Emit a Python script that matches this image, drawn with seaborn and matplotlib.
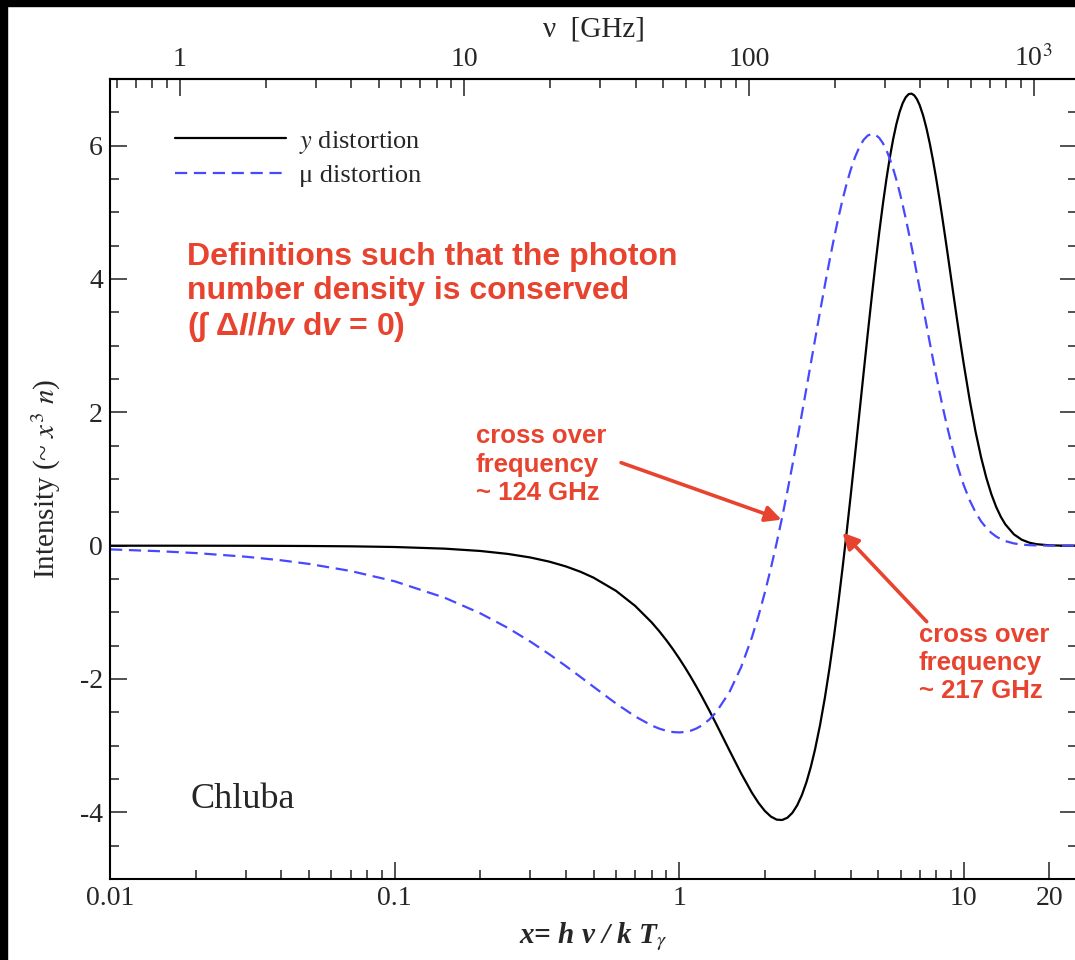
import numpy as np
import matplotlib
matplotlib.use("Agg")
import matplotlib.pyplot as plt
from matplotlib.ticker import (FixedLocator, FixedFormatter, LogLocator,
                               MultipleLocator, NullFormatter)
from matplotlib.font_manager import FontProperties
from matplotlib.patches import Rectangle
import seaborn as sns

# ---- data -------------------------------------------------------------
x_vals = [0.01, 0.015, 0.02, 0.03, 0.04, 0.05, 0.07, 0.1, 0.15, 0.2, 0.25,
          0.3, 0.35, 0.4, 0.45, 0.5, 0.6, 0.7, 0.8, 0.85, 0.9, 0.95, 1.0,
          1.05, 1.1, 1.15, 1.2, 1.275, 1.35, 1.5, 1.65, 1.8, 1.9, 2.0, 2.1,
          2.2, 2.3, 2.4, 2.5, 2.6, 2.7, 2.8, 2.9, 3.0, 3.125, 3.25, 3.375,
          3.5, 3.625, 3.75, 3.875, 4.0, 4.15, 4.3, 4.45, 4.6, 4.75, 4.9,
          5.05, 5.2, 5.35, 5.5, 5.65, 5.8, 5.95, 6.1, 6.25, 6.4, 6.55, 6.7,
          6.85, 7.0, 7.2, 7.4, 7.6, 7.8, 8.0, 8.2, 8.4, 8.6, 8.8, 9.0, 9.25,
          9.5, 9.75, 10, 10.5, 11, 11.5, 12, 12.5, 13, 13.5, 14, 15, 16, 17,
          18, 20, 22, 25]

y_distortion = [-0.0002, -0.0005, -0.0008, -0.0018, -0.0032, -0.0050,
                -0.0098, -0.0200, -0.0448, -0.0795, -0.1237, -0.1773,
                -0.2400, -0.3116, -0.3915, -0.4796, -0.6779, -0.9028,
                -1.1498, -1.2801, -1.4140, -1.5510, -1.6904, -1.8315,
                -1.9736, -2.1160, -2.2581, -2.4691, -2.6757, -3.0664,
                -3.4139, -3.7037, -3.8585, -3.9792, -4.0634, -4.1091,
                -4.1153, -4.0812, -4.0068, -3.8924, -3.7392, -3.5485,
                -3.3221, -3.0623, -2.6945, -2.2839, -1.8366, -1.3589,
                -0.8573, -0.3383, 0.1916, 0.7262, 1.3657, 1.9941, 2.6029,
                3.1846, 3.7327, 4.2421, 4.7086, 5.1293, 5.5022, 5.8258,
                6.1002, 6.3259, 6.5042, 6.6363, 6.7247, 6.7722, 6.7811,
                6.7547, 6.6961, 6.6083, 6.4516, 6.2562, 6.0294, 5.7777,
                5.5073, 5.2239, 4.9325, 4.6373, 4.3425, 4.0513, 3.6960,
                3.3546, 3.0301, 2.7247, 2.1759, 1.7119, 1.3289, 1.0193,
                0.7734, 0.5810, 0.4326, 0.3194, 0.1704, 0.0885, 0.0450,
                0.0224, 0.0053, 0.0012, 0.0001]

mu_distortion = [-0.0557, -0.0834, -0.1110, -0.1657, -0.2199, -0.2735,
                 -0.3793, -0.5340, -0.7810, -1.0143, -1.2337, -1.4390,
                 -1.6300, -1.8067, -1.9687, -2.1163, -2.3676, -2.5607,
                 -2.6966, -2.7433, -2.7762, -2.7956, -2.8015, -2.7945,
                 -2.7746, -2.7424, -2.6981, -2.6099, -2.4967, -2.2016,
                 -1.8249, -1.3799, -1.0519, -0.7036, -0.3389, 0.0382,
                 0.4238, 0.8145, 1.2067, 1.5970, 1.9826, 2.3606, 2.7284,
                 3.0837, 3.5072, 3.9047, 4.2735, 4.6113, 4.9165, 5.1884,
                 5.4259, 5.6296, 5.8294, 5.9818, 6.0887, 6.1526, 6.1761,
                 6.1624, 6.1148, 6.0366, 5.9314, 5.8022, 5.6528, 5.4861,
                 5.3051, 5.1129, 4.9118, 4.7046, 4.4933, 4.2800, 4.0664,
                 3.8540, 3.5753, 3.3039, 3.0421, 2.7916, 2.5534, 2.3286,
                 2.1174, 1.9200, 1.7367, 1.5670, 1.3735, 1.1998, 1.0446,
                 0.9068, 0.6774, 0.5008, 0.3668, 0.2663, 0.1919, 0.1373,
                 0.0975, 0.0689, 0.0338, 0.0163, 0.0077, 0.0036, 0.0008,
                 0.0002, 0.0000]

series_labels = ["$y$ distortion", "\u03bc distortion"]

x_ticks = [0.01, 0.1, 1, 10, 20]
x_tick_labels = ["0.01", "0.1", "1", "10", "20"]
nu_ticks = [1, 10, 100, 1000]
nu_tick_labels = ["1", "10", "100", "10$^3$"]
y_ticks = [-4, -2, 0, 2, 4, 6]
y_tick_labels = ["-4", "-2", "0", "2", "4", "6"]

GHZ_PER_X = 56.8              # k T_gamma / h for T_gamma = 2.725 K
crossover_mu = (2.29, 0.39)   # arrow tips, (x, intensity)
crossover_y = (3.75, 0.195)

# ---- style ------------------------------------------------------------
sns.set_style("ticks")
plt.rcParams.update({
    "font.family": ["Liberation Serif", "DejaVu Serif"],
    "mathtext.fontset": "stix",
    "mathtext.rm": "Liberation Sans:bold",
    "mathtext.it": "Liberation Sans:italic:bold",
    "mathtext.bf": "Liberation Sans:bold",
    "axes.unicode_minus": False,
    "axes.edgecolor": "black",
    "axes.linewidth": 1.5,
})

RED = "#e8432f"
BLUE = "#4848ff"
TICK_FS = 20

fig = plt.figure(figsize=(10.75, 9.6), dpi=100)
ax = fig.add_axes([110 / 1075, 81 / 960, 967 / 1075, 800 / 960])
ax.set_xscale("log")

sns.lineplot(x=x_vals, y=y_distortion, ax=ax, color="black", lw=1.6,
             sort=False, label=series_labels[0])
sns.lineplot(x=x_vals, y=mu_distortion, ax=ax, color=BLUE, lw=1.6,
             linestyle=(0, (5.5, 3.0)), sort=False, label=series_labels[1])

ax.set_xlim(0.01, 25)
ax.set_ylim(-5, 7)

# bottom axis
ax.xaxis.set_major_locator(FixedLocator(x_ticks))
ax.xaxis.set_major_formatter(FixedFormatter(x_tick_labels))
ax.xaxis.set_minor_locator(LogLocator(base=10, subs=np.arange(2, 10)))
ax.xaxis.set_minor_formatter(NullFormatter())
# left axis
ax.yaxis.set_major_locator(FixedLocator(y_ticks))
ax.yaxis.set_major_formatter(FixedFormatter(y_tick_labels))
ax.yaxis.set_minor_locator(MultipleLocator(0.5))

ax.tick_params(which="both", direction="in", top=False, right=True,
               labelsize=TICK_FS, width=1.1, color="#222222", pad=5)
ax.tick_params(which="major", length=12.5)
ax.tick_params(which="minor", length=6.5)

# top axis in GHz
secax = ax.secondary_xaxis("top", functions=(lambda x: x * GHZ_PER_X,
                                              lambda v: v / GHZ_PER_X))
secax.xaxis.set_major_locator(FixedLocator(nu_ticks))
secax.xaxis.set_major_formatter(FixedFormatter(nu_tick_labels))
secax.xaxis.set_minor_locator(LogLocator(base=10, subs=np.arange(2, 10)))
secax.xaxis.set_minor_formatter(NullFormatter())
secax.tick_params(which="both", direction="in", labelsize=TICK_FS,
                  width=1.1, color="#222222", pad=5)
secax.tick_params(which="major", length=12.5)
secax.tick_params(which="minor", length=6.5)
secax.spines["top"].set_linewidth(1.5)
secax.set_xlabel("\u03bd  [GHz]", fontsize=21, labelpad=6)

ax.set_xlabel("x= h \u03bd / k T$_{\\gamma}$", fontsize=21, fontweight="bold",
              fontstyle="italic", labelpad=7)
ax.set_ylabel("Intensity (~ $x^{3}\\ n$)", fontsize=21, labelpad=12)

# legend
leg_font = FontProperties(family="Liberation Serif", size=19,
                          math_fontfamily="stix")
ax.legend(loc="upper left", bbox_to_anchor=(0.0673, 0.938), frameon=False,
          prop=leg_font, handlelength=4.2, handletextpad=0.5,
          labelspacing=0.3, borderpad=0, borderaxespad=0)

# annotations (anchored at the baseline of their last line)
red_kw = dict(color=RED, fontweight="bold", family=["Liberation Sans", "DejaVu Sans"],
              math_fontfamily="custom", transform=ax.transAxes, va="baseline",
              ha="left")
ax.text(0.0797, 0.680,
        "Definitions such that the photon\nnumber density is conserved\n"
        "(\u222b \u0394$\\mathit{I/hv}$ d$\\mathit{v}$ = 0)",
        fontsize=23, linespacing=1.17, **red_kw)
ax.text(0.378, 0.474, "cross over\nfrequency\n~ 124 GHz", fontsize=18.5,
        linespacing=1.22, **red_kw)
ax.text(0.8364, 0.226, "cross over\nfrequency\n~ 217 GHz", fontsize=18.5,
        linespacing=1.22, **red_kw)

arrow_kw = dict(arrowstyle="-|>", color=RED, lw=2.6, mutation_scale=24,
                shrinkA=0, shrinkB=0)
ax.annotate("", xy=crossover_mu, xytext=(0.625, 1.245), arrowprops=arrow_kw)
ax.annotate("", xy=crossover_y, xytext=(7.41, -1.14), arrowprops=arrow_kw)

ax.text(0.0828, 0.0888, "Chluba", fontsize=26, transform=ax.transAxes,
        va="baseline", ha="left")

# dark frame along the top and left edges
fig.add_artist(Rectangle((0, 1 - 6 / 960), 1, 6 / 960, transform=fig.transFigure,
                         color="black", zorder=20))
fig.add_artist(Rectangle((0, 0), 7 / 1075, 1, transform=fig.transFigure,
                         color="black", zorder=20))

fig.savefig("out.png", dpi=100)
